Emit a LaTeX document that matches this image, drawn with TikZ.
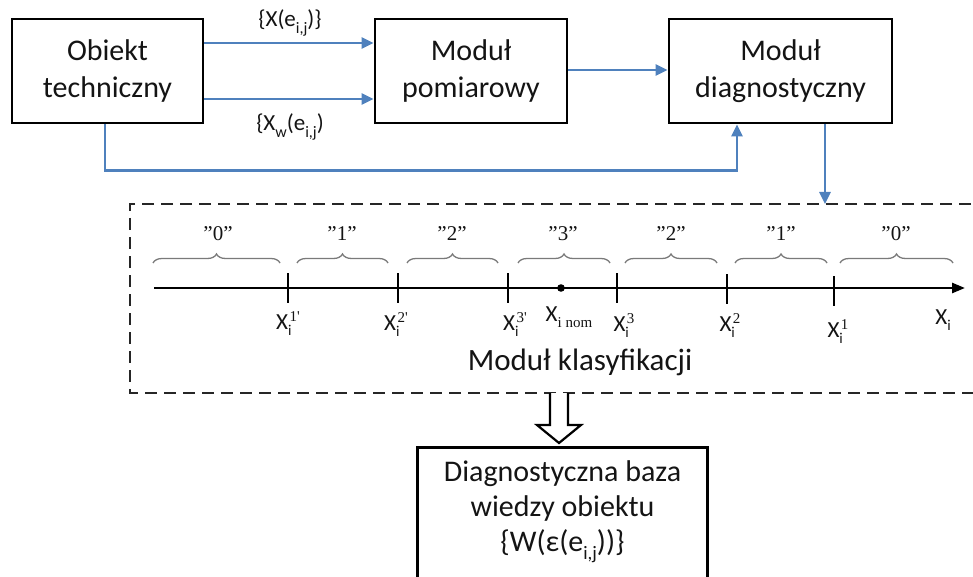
\documentclass[tikz,border=0pt]{standalone}
\usepackage{fontspec}
\setmainfont{Carlito}
\newfontfamily\tnr{Liberation Serif}
\usetikzlibrary{arrows.meta,decorations.pathreplacing}
\definecolor{flowblue}{HTML}{4F81BD}
\definecolor{bracegray}{HTML}{7A7A7A}
\definecolor{inkk}{HTML}{141414}

% small lowered text (subscripts)
\newcommand{\lowr}[2]{\raisebox{-0.28em}{\fontsize{#1}{#1}\selectfont #2}}
% axis point label: X with subscript i and a serif superscript
\newcommand{\xpt}[1]{X\rlap{\lowr{15}{i}}\kern1.5pt\raisebox{0.33em}{\tnr\fontsize{15}{15}\selectfont #1}}

\begin{document}
\begin{tikzpicture}[x=1pt,y=-1pt,
  box/.style={draw=black,line width=2.8pt,inner sep=0pt,align=center,
    text=inkk,font=\fontsize{30}{37}\selectfont},
  flow/.style={draw=flowblue,line width=2.6pt,
    -{Triangle[length=12pt,width=11pt]}},
  lab/.style={text=inkk,inner sep=0pt,font=\fontsize{23}{26}\selectfont},
  axlab/.style={text=inkk,inner sep=0pt,font=\fontsize{23}{26}\selectfont},
  brlab/.style={text=inkk,inner sep=0pt,font=\tnr\fontsize{21}{24}\selectfont},
  grp/.style={draw=bracegray,line width=1.3pt,decorate,
    decoration={brace,amplitude=9pt}},
  tick/.style={draw=black,line width=2.6pt},
  dashbox/.style={draw=black!85,line width=2.2pt,dash pattern=on 12pt off 7pt},
]
\useasboundingbox (0,0) rectangle (973,577);
\clip (0,0) rectangle (973,577);

% ---- upper chain of modules
\node[box,minimum width=191pt,minimum height=104pt] (obj) at (107.5,71)
  {Obiekt\\techniczny};
\node[box,minimum width=192pt,minimum height=104pt] (pom) at (471,71)
  {Moduł\\pomiarowy};
\node[box,minimum width=223pt,minimum height=104pt] (diag) at (780.5,71)
  {Moduł\\diagnostyczny};

\draw[flow] ([yshift=28pt]obj.east) -- ([yshift=28pt]pom.west);
\draw[flow] ([yshift=-28pt]obj.east) -- ([yshift=-28pt]pom.west);
\draw[flow] ([yshift=1pt]pom.east) -- ([yshift=1pt]diag.west);
\draw[flow] ([xshift=-2.5pt]obj.south) -- ++(0,46) -| ([xshift=-43.5pt]diag.south);

\node[lab] (lx) at (290,23) {\{X(e\lowr{16}{i,j})\}};
\node[lab] (lxw) at (290,127) {\{X\lowr{16}{w}(e\lowr{16}{i,j})};

% ---- classification module (dashed frame, open to the right)
\coordinate (kTL) at (130,204);
\coordinate (kBL) at (130,393);
\draw[dashbox] (990,204) -- (kTL) -- (kBL) -- (990,393);
\coordinate (kin) at (825,204);
\draw[flow] ([xshift=44.5pt]diag.south) -- (kin);

% value axis
\coordinate (a0) at (154,288);
\coordinate (a1) at (965,288);
\draw[line width=2.6pt,-{Triangle[length=13pt,width=10pt]}] (a0) -- (a1);
\foreach \t/\x/\d in {t1/288/0,t2/398/0,t3/508/0,t4/617/0,t5/727/1,t6/834/3}{
  \coordinate (\t) at (\x,288+\d);
  \draw[tick] ([yshift=15pt]\t) -- ([yshift=-15pt]\t);
}
\coordinate (nom) at (561,288);
\fill (nom) circle (3.8pt);

\node[axlab] (x1p) at (288,324) {\xpt{1'}};
\node[axlab] (x2p) at (396,325) {\xpt{2'}};
\node[axlab] (x3p) at (515,325) {\xpt{3'}};
\node[axlab] (xn)  at (569,317) {X\lowr{15}{\tnr i nom}};
\node[axlab] (x3)  at (624,326) {\xpt{3}};
\node[axlab] (x2)  at (730,326) {\xpt{2}};
\node[axlab] (x1)  at (838,332) {\xpt{1}};
\node[axlab] (xi)  at (943,320) {X\lowr{15}{i}};

% class ranges
\foreach \l/\r/\c/\v in {153/280/218/0, 297/388/342/1, 407/498/452/2,
    518/610/563/3, 625/717/671/2, 735/827/781/1, 840/953/896/0}{
  \draw[grp] (\l,263) -- (\r,263);
  \node[brlab] at (\c,234) {”\v”};
}

\node[text=inkk,inner sep=0pt,font=\fontsize{31}{34}\selectfont] (klas)
  at (580,362) {Moduł klasyfikacji};

% ---- knowledge base
\node[inner sep=0pt,minimum width=289pt,minimum height=128pt,align=center,
  text=inkk,font=\fontsize{30}{35}\selectfont] (kb) at (562.5,512)
  {Diagnostyczna baza\\wiedzy obiektu\\\{W(ε(e\lowr{19}{i,j}))\}};
\draw[line width=2.8pt] (kb.south west) ++(0,20) -- (kb.north west)
  -- (kb.north east) -- ++(0,160);

% hollow transfer arrow
\coordinate (hs) at (559,393);
\coordinate (ht) at (559,443);
\draw[line width=2.2pt,fill=white]
  ([xshift=-9pt]hs) -- ([xshift=-9pt,yshift=18pt]ht) -- ([xshift=-22pt,yshift=18pt]ht)
  -- (ht) -- ([xshift=22pt,yshift=18pt]ht) -- ([xshift=9pt,yshift=18pt]ht)
  -- ([xshift=9pt]hs);
\end{tikzpicture}
\end{document}
